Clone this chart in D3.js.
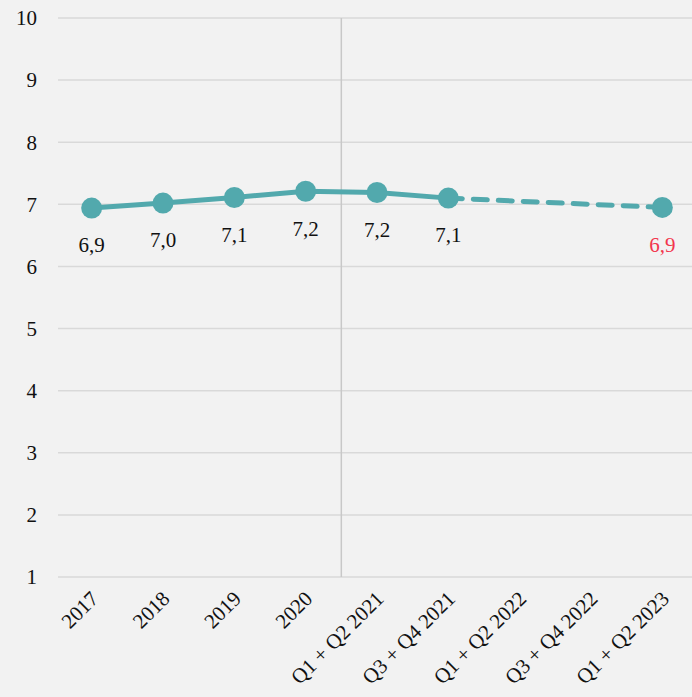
<!DOCTYPE html>
<html>
<head>
<meta charset="utf-8">
<script src="https://cdn.jsdelivr.net/npm/d3@7"></script>
<style>
  html, body { margin: 0; padding: 0; background: #f2f2f2; }
  svg { display: block; font-family: "Liberation Serif", "DejaVu Serif", serif; }
</style>
</head>
<body>
<div id="chart"></div>
<script>
// chart data
const categories = ["2017", "2018", "2019", "2020", "Q1 + Q2 2021", "Q3 + Q4 2021", "Q1 + Q2 2022", "Q3 + Q4 2022", "Q1 + Q2 2023"];
const solidValues = [
    ["2017", 6.94], ["2018", 7.02], ["2019", 7.11], ["2020", 7.21],
    ["Q1 + Q2 2021", 7.19], ["Q3 + Q4 2021", 7.10]
];
const dashedValues = [["Q3 + Q4 2021", 7.10], ["Q1 + Q2 2023", 6.95]];
const pointLabels = ["6,9", "7,0", "7,1", "7,2", "7,2", "7,1", "6,9"];
const yTicks = [1, 2, 3, 4, 5, 6, 7, 8, 9, 10];
const splitBetween = ["2020", "Q1 + Q2 2021"];

const width = 692, height = 697;
const TEAL = "#52a9ad", RED = "#f2364d";

const svg = d3.select("#chart").append("svg")
    .attr("width", width)
    .attr("height", height);

const x = d3.scaleBand()
    .domain(categories)
    .range([56, 698]);

const y = d3.scaleLinear()
    .domain([1, 10])
    .range([577, 18]);

const cx = d => x(d) + x.bandwidth() / 2;

// horizontal grid
svg.append("g").selectAll("line")
    .data(yTicks)
    .enter().append("line")
    .attr("x1", 58)
    .attr("x2", width)
    .attr("y1", d => y(d))
    .attr("y2", d => y(d))
    .attr("stroke", "#d9d9d9")
    .attr("stroke-width", 1.5);

// y tick labels
svg.append("g").selectAll("text")
    .data(yTicks)
    .enter().append("text")
    .attr("x", 37)
    .attr("y", d => y(d))
    .attr("dy", "0.35em")
    .attr("text-anchor", "end")
    .attr("font-size", 21)
    .attr("fill", "#111")
    .text(d => d);

// vertical split line
const splitX = (cx(splitBetween[0]) + cx(splitBetween[1])) / 2;
svg.append("line")
    .attr("x1", splitX).attr("x2", splitX)
    .attr("y1", y(10)).attr("y2", y(1))
    .attr("stroke", "#c8c8c8")
    .attr("stroke-width", 1.5);

// x labels, rotated
svg.append("g").selectAll("text")
    .data(categories)
    .enter().append("text")
    .attr("transform", d => "translate(" + (cx(d) + 8) + ",600) rotate(-45)")
    .attr("text-anchor", "end")
    .attr("font-size", 21)
    .attr("fill", "#111")
    .text(d => d);

const line = d3.line()
    .x(d => cx(d[0]))
    .y(d => y(d[1]));

svg.append("path")
    .datum(dashedValues)
    .attr("d", line)
    .attr("fill", "none")
    .attr("stroke", TEAL)
    .attr("stroke-width", 5)
    .attr("stroke-linecap", "round")
    .attr("stroke-dasharray", "14,11");

svg.append("path")
    .datum(solidValues)
    .attr("d", line)
    .attr("fill", "none")
    .attr("stroke", TEAL)
    .attr("stroke-width", 5);

const points = solidValues.concat([dashedValues[1]]);

svg.append("g").selectAll("circle")
    .data(points)
    .enter().append("circle")
    .attr("cx", d => cx(d[0]))
    .attr("cy", d => y(d[1]))
    .attr("r", 10.5)
    .attr("fill", TEAL);

svg.append("g").selectAll("text")
    .data(points)
    .enter().append("text")
    .attr("x", d => cx(d[0]))
    .attr("y", d => y(d[1]) + 37)
    .attr("dy", "0.35em")
    .attr("text-anchor", "middle")
    .attr("font-size", 21)
    .attr("fill", (d, i) => i === points.length - 1 ? RED : "#111")
    .text((d, i) => pointLabels[i]);
</script>
</body>
</html>
